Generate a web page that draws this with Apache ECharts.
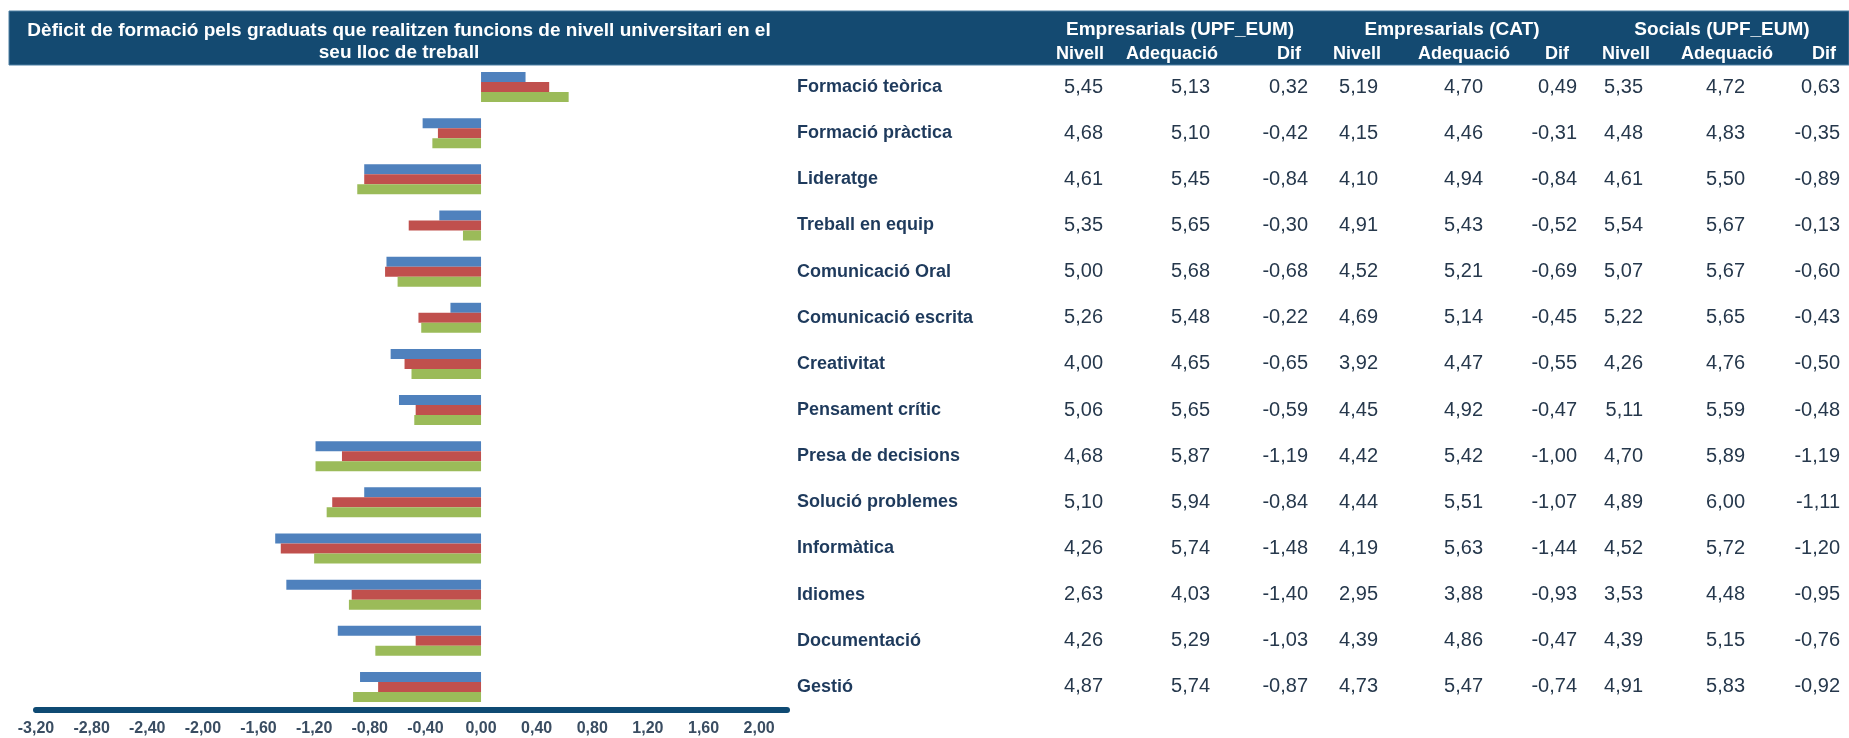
<!DOCTYPE html>
<html>
<head>
<meta charset="utf-8">
<script src="https://cdn.jsdelivr.net/npm/echarts@6/dist/echarts.min.js"></script>
<style>
html,body{margin:0;padding:0;background:#fff;}
#chart{width:1849px;height:738px;}
</style>
</head>
<body>
<div id="chart"></div>
<script>
const titleText = 'Dèficit de formació pels graduats que realitzen funcions de nivell universitari en el\nseu lloc de treball';
const groupHeaders = ['Empresarials (UPF_EUM)', 'Empresarials (CAT)', 'Socials (UPF_EUM)'];
const columnHeaders = ['Nivell', 'Adequació', 'Dif', 'Nivell', 'Adequació', 'Dif', 'Nivell', 'Adequació', 'Dif'];
const categories = ['Formació teòrica', 'Formació pràctica', 'Lideratge', 'Treball en equip', 'Comunicació Oral',
  'Comunicació escrita', 'Creativitat', 'Pensament crític', 'Presa de decisions', 'Solució problemes',
  'Informàtica', 'Idiomes', 'Documentació', 'Gestió'];
const upfNivell    = [5.45, 4.68, 4.61, 5.35, 5.00, 5.26, 4.00, 5.06, 4.68, 5.10, 4.26, 2.63, 4.26, 4.87];
const upfAdequacio = [5.13, 5.10, 5.45, 5.65, 5.68, 5.48, 4.65, 5.65, 5.87, 5.94, 5.74, 4.03, 5.29, 5.74];
const upfDif       = [0.32, -0.42, -0.84, -0.30, -0.68, -0.22, -0.65, -0.59, -1.19, -0.84, -1.48, -1.40, -1.03, -0.87];
const catNivell    = [5.19, 4.15, 4.10, 4.91, 4.52, 4.69, 3.92, 4.45, 4.42, 4.44, 4.19, 2.95, 4.39, 4.73];
const catAdequacio = [4.70, 4.46, 4.94, 5.43, 5.21, 5.14, 4.47, 4.92, 5.42, 5.51, 5.63, 3.88, 4.86, 5.47];
const catDif       = [0.49, -0.31, -0.84, -0.52, -0.69, -0.45, -0.55, -0.47, -1.00, -1.07, -1.44, -0.93, -0.47, -0.74];
const socNivell    = [5.35, 4.48, 4.61, 5.54, 5.07, 5.22, 4.26, 5.11, 4.70, 4.89, 4.52, 3.53, 4.39, 4.91];
const socAdequacio = [4.72, 4.83, 5.50, 5.67, 5.67, 5.65, 4.76, 5.59, 5.89, 6.00, 5.72, 4.48, 5.15, 5.83];
const socDif       = [0.63, -0.35, -0.89, -0.13, -0.60, -0.43, -0.50, -0.48, -1.19, -1.11, -1.20, -0.95, -0.76, -0.92];
const seriesNames = ['Empresarials (UPF_EUM)', 'Empresarials (CAT)', 'Socials (UPF_EUM)'];

const fmt = v => v.toFixed(2).replace('.', ',');

// layout (pixels)
const gridLeft = 36, gridRight = 1062, gridTop = 64, gridBottom = 28;
const axisEndX = 1849 - gridRight;
const catLabelX = 797;
const colRightEdges = [1103, 1210, 1308, 1378, 1483, 1577, 1643, 1745, 1840];
const colHeaderCenters = [1080, 1172, 1289, 1357, 1464, 1557, 1626, 1727, 1824];
const groupCenters = [1180, 1452, 1722];
const headerColor = '#144a71';
const textNavy = '#1e3a5c';
const valueColor = '#26384c';
const FONT = '"Liberation Sans", Arial, sans-serif';

const columns = [upfNivell, upfAdequacio, upfDif, catNivell, catAdequacio, catDif, socNivell, socAdequacio, socDif];

const yAxes = [{
  type: 'category', inverse: true, data: categories,
  axisLine: {show: false}, axisTick: {show: false}, axisLabel: {show: false}, splitLine: {show: false}
}, {
  type: 'category', inverse: true, data: categories, position: 'right', offset: catLabelX - axisEndX,
  axisLine: {show: false}, axisTick: {show: false}, splitLine: {show: false},
  axisLabel: {margin: 0, align: 'left', fontFamily: FONT, fontSize: 18, fontWeight: 'bold', color: textNavy,
    padding: [3, 0, 0, 0]}
}];
columns.forEach((arr, i) => {
  yAxes.push({
    type: 'category', inverse: true, data: categories, position: 'right', offset: colRightEdges[i] - axisEndX,
    axisLine: {show: false}, axisTick: {show: false}, splitLine: {show: false},
    axisLabel: {margin: 0, align: 'right', fontFamily: FONT, fontSize: 20, color: valueColor,
      padding: [3, 0, 0, 0], formatter: (val, idx) => fmt(arr[idx])}
  });
});

const graphics = [{
  type: 'rect', z: 0, shape: {x: 9, y: 11, width: 1840, height: 54},
  style: {fill: headerColor, stroke: '#4c7ea3', lineWidth: 1}
}];
titleText.split('\n').forEach((line, i) => {
  graphics.push({type: 'text', z: 1, x: 399, y: i === 0 ? 31 : 53,
    style: {text: line, fill: '#ffffff', font: 'bold 19px ' + FONT, align: 'center', verticalAlign: 'middle',
      textAlign: 'center', textVerticalAlign: 'middle'}});
});
groupHeaders.forEach((t, i) => {
  graphics.push({type: 'text', z: 1, x: groupCenters[i], y: 30,
    style: {text: t, fill: '#ffffff', font: 'bold 19px ' + FONT, align: 'center', verticalAlign: 'middle',
      textAlign: 'center', textVerticalAlign: 'middle'}});
});
columnHeaders.forEach((t, i) => {
  graphics.push({type: 'text', z: 1, x: colHeaderCenters[i], y: 54,
    style: {text: t, fill: '#ffffff', font: 'bold 18px ' + FONT, align: 'center', verticalAlign: 'middle',
      textAlign: 'center', textVerticalAlign: 'middle'}});
});

const chart = echarts.init(document.getElementById('chart'), null, {renderer: 'canvas'});
chart.setOption({
  animation: false,
  backgroundColor: '#ffffff',
  grid: {left: gridLeft, right: gridRight, top: gridTop, bottom: gridBottom, containLabel: false},
  xAxis: {
    type: 'value', min: -3.2, max: 2.2, interval: 0.4,
    axisLine: {show: true, onZero: false, lineStyle: {color: '#0f4a73', width: 6, cap: 'round'}},
    axisTick: {show: true, length: 3, lineStyle: {color: '#0f4a73', width: 2}},
    splitLine: {show: false},
    axisLabel: {showMaxLabel: false, margin: 11, fontFamily: FONT, fontSize: 16, fontWeight: 'bold', color: '#3a4d62',
      formatter: v => fmt(v)}
  },
  yAxis: yAxes,
  series: [
    {name: seriesNames[0], type: 'bar', data: upfDif, barWidth: 10, barGap: '0%', itemStyle: {color: '#4f81bd'}},
    {name: seriesNames[1], type: 'bar', data: catDif, barWidth: 10, barGap: '0%', itemStyle: {color: '#c0504d'}},
    {name: seriesNames[2], type: 'bar', data: socDif, barWidth: 10, barGap: '0%', itemStyle: {color: '#9bbb59'}}
  ],
  graphic: {elements: graphics}
});
</script>
</body>
</html>
